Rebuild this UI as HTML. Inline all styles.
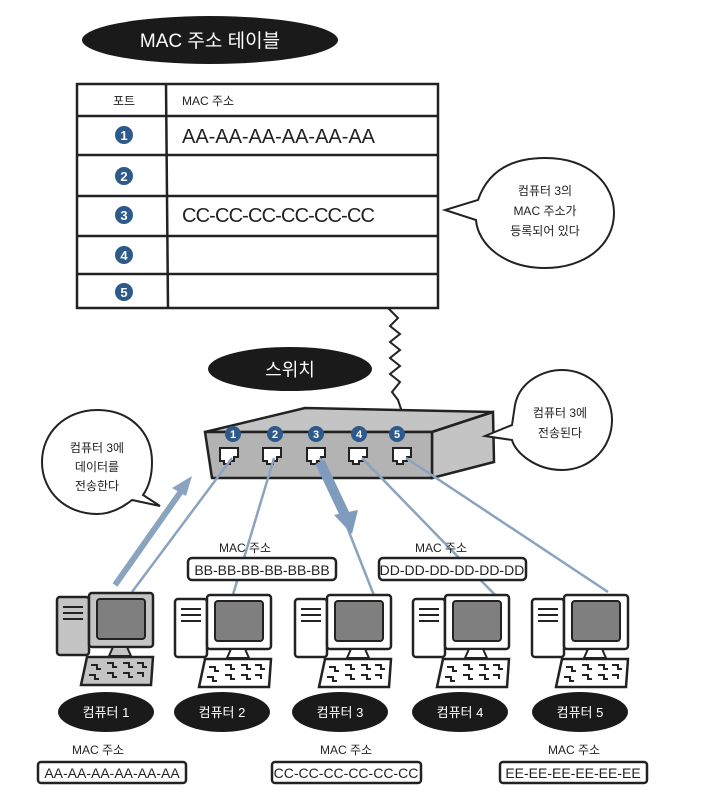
<!DOCTYPE html>
<html><head><meta charset="utf-8"><style>
html,body{margin:0;padding:0;background:#fff;}
svg{display:block;}
text{font-family:"Liberation Sans","Noto Sans CJK KR",sans-serif;}
</style></head><body>
<svg width="706" height="800" viewBox="0 0 706 800" xmlns="http://www.w3.org/2000/svg">
<defs>
<g id="pc-g">
  <rect x="0" y="4" width="32" height="58" rx="3" fill="#c4c4c4" stroke="#222" stroke-width="2.5"/>
  <line x1="6" y1="14" x2="26" y2="14" stroke="#222" stroke-width="2"/>
  <line x1="6" y1="20" x2="26" y2="20" stroke="#222" stroke-width="2"/>
  <line x1="6" y1="26" x2="26" y2="26" stroke="#222" stroke-width="2"/>
  <rect x="32" y="0" width="64" height="54" rx="3" fill="#c4c4c4" stroke="#222" stroke-width="2.5"/>
  <rect x="40" y="6" width="48" height="40" rx="3" fill="#7f7f7f" stroke="#222" stroke-width="2"/>
  <polygon points="56,54 70,54 74,63 52,63" fill="#c4c4c4" stroke="#222" stroke-width="2"/>
  <polygon points="30,64 96,64 94,92 24,92" fill="#c4c4c4" stroke="#222" stroke-width="2.5"/>
  <g stroke="#222" stroke-width="2" fill="none">
    <path d="M34,72 h6 v4 h4"/><path d="M50,70 h6 v4 h4"/><path d="M66,70 h6 v4 h4"/><path d="M80,70 h6 v4 h4"/>
    <path d="M32,82 h6 v4 h4"/><path d="M50,80 h6 v4 h4"/><path d="M66,80 h6 v4 h4"/><path d="M80,80 h6 v4"/>
  </g>
</g>
<g id="pc-w">
  <rect x="0" y="4" width="32" height="58" rx="3" fill="#fff" stroke="#222" stroke-width="2.5"/>
  <line x1="6" y1="14" x2="26" y2="14" stroke="#222" stroke-width="2"/>
  <line x1="6" y1="20" x2="26" y2="20" stroke="#222" stroke-width="2"/>
  <line x1="6" y1="26" x2="26" y2="26" stroke="#222" stroke-width="2"/>
  <rect x="32" y="0" width="64" height="54" rx="3" fill="#fff" stroke="#222" stroke-width="2.5"/>
  <rect x="40" y="6" width="48" height="40" rx="3" fill="#7f7f7f" stroke="#222" stroke-width="2"/>
  <polygon points="56,54 70,54 74,63 52,63" fill="#fff" stroke="#222" stroke-width="2"/>
  <polygon points="30,64 96,64 94,92 24,92" fill="#fff" stroke="#222" stroke-width="2.5"/>
  <g stroke="#222" stroke-width="2" fill="none">
    <path d="M34,72 h6 v4 h4"/><path d="M50,70 h6 v4 h4"/><path d="M66,70 h6 v4 h4"/><path d="M80,70 h6 v4 h4"/>
    <path d="M32,82 h6 v4 h4"/><path d="M50,80 h6 v4 h4"/><path d="M66,80 h6 v4 h4"/><path d="M80,80 h6 v4"/>
  </g>
</g>
<g id="port">
  <path d="M-9,-8 h18 v9 h-4 v4 h-4 v3 h-6 v-3 h-4 z" fill="#fff" stroke="#222" stroke-width="2"/>
</g>
</defs>

<ellipse cx="210" cy="40" rx="128" ry="24" fill="#1a1a1a"/>
<text x="210" y="47" font-size="19" fill="#fff" text-anchor="middle">MAC 주소 테이블</text>

<rect x="77" y="84" width="361" height="224" fill="#fff" stroke="#222" stroke-width="2.5"/>
<g stroke="#222" stroke-width="2.5">
<line x1="77" y1="116" x2="438" y2="116"/>
<line x1="77" y1="155" x2="438" y2="155"/>
<line x1="77" y1="196" x2="438" y2="196"/>
<line x1="77" y1="236" x2="438" y2="236"/>
<line x1="77" y1="274" x2="438" y2="274"/>
<line x1="166" y1="84" x2="168" y2="308"/>
</g>
<text x="124" y="105" font-size="12" text-anchor="middle" fill="#222">포트</text>
<text x="182" y="105" font-size="12" fill="#222">MAC 주소</text>
<g fill="#2d5a8a"><circle cx="124" cy="135" r="9"/><circle cx="124" cy="176" r="9"/><circle cx="124" cy="215" r="9"/><circle cx="124" cy="255" r="9"/><circle cx="124" cy="292" r="9"/></g>
<g fill="#fff" font-size="13" font-weight="bold" text-anchor="middle">
<text x="124" y="140">1</text><text x="124" y="181">2</text><text x="124" y="220">3</text><text x="124" y="260">4</text><text x="124" y="297">5</text></g>
<text x="182" y="143" font-size="20" fill="#222" textLength="193">AA-AA-AA-AA-AA-AA</text>
<text x="182" y="222" font-size="20" fill="#222" textLength="193">CC-CC-CC-CC-CC-CC</text>

<path d="M478,200 C490,165 520,158 545,158 C590,158 614,185 614,213 C614,245 585,268 545,268 C505,268 478,245 476,220 L445,210 Z" fill="#fff" stroke="#222" stroke-width="2"/>
<text x="545" y="195" font-size="12" text-anchor="middle" fill="#222">컴퓨터 3의</text>
<text x="545" y="215" font-size="12" text-anchor="middle" fill="#222">MAC 주소가</text>
<text x="545" y="235" font-size="12" text-anchor="middle" fill="#222">등록되어 있다</text>

<path d="M388,308 L398,318 L390,326 L400,334 L390,342 L400,350 L390,358 L400,366 L390,374 L400,382 L392,392 L398,400 L402,412" fill="none" stroke="#222" stroke-width="2"/>

<ellipse cx="290" cy="369" rx="82" ry="22" fill="#1a1a1a"/>
<text x="290" y="376" font-size="18" fill="#fff" text-anchor="middle">스위치</text>

<polygon points="205,432 305,408 493,412 432,432" fill="#c4c4c4" stroke="#222" stroke-width="2.5"/>
<polygon points="432,432 493,412 494,462 432,478" fill="#c4c4c4" stroke="#222" stroke-width="2.5"/>
<polygon points="205,432 432,432 432,478 212,478" fill="#b3b3b3" stroke="#222" stroke-width="2.5"/>
<g fill="#2d5a8a"><circle cx="233" cy="434" r="8"/><circle cx="275" cy="434" r="8"/><circle cx="316" cy="434" r="8"/><circle cx="359" cy="434" r="8"/><circle cx="397" cy="434" r="8"/></g>
<g fill="#fff" font-size="11" font-weight="bold" text-anchor="middle">
<text x="233" y="438">1</text><text x="275" y="438">2</text><text x="316" y="438">3</text><text x="359" y="438">4</text><text x="397" y="438">5</text></g>
<use href="#port" x="229" y="456"/><use href="#port" x="272" y="456"/><use href="#port" x="316" y="456"/><use href="#port" x="358" y="456"/><use href="#port" x="402" y="456"/>

<path d="M515,405 C520,380 545,370 562,370 C592,370 612,395 612,420 C612,448 590,470 562,470 C535,470 515,452 512,440 L485,436 L512,425 Z" fill="#fff" stroke="#222" stroke-width="2"/>
<text x="560" y="417" font-size="12" text-anchor="middle" fill="#222">컴퓨터 3에</text>
<text x="560" y="437" font-size="12" text-anchor="middle" fill="#222">전송된다</text>

<path d="M97,410 C130,410 152,432 152,462 C152,478 148,488 143,495 L160,506 L132,500 C122,508 110,514 97,514 C66,514 42,492 42,462 C42,432 66,410 97,410 Z" fill="#fff" stroke="#222" stroke-width="2"/>
<text x="97" y="452" font-size="12" text-anchor="middle" fill="#222">컴퓨터 3에</text>
<text x="97" y="471" font-size="12" text-anchor="middle" fill="#222">데이터를</text>
<text x="97" y="490" font-size="12" text-anchor="middle" fill="#222">전송한다</text>

<g stroke="#8aa3bf" stroke-width="2.5" fill="none">
<line x1="232" y1="458" x2="132" y2="592"/>
<line x1="274" y1="458" x2="232" y2="598"/>
<line x1="320" y1="458" x2="375" y2="598"/>
<line x1="362" y1="458" x2="498" y2="598"/>
<line x1="406" y1="458" x2="608" y2="592"/>
</g>
<line x1="115" y1="585" x2="182" y2="490" stroke="#8aa3bf" stroke-width="6"/>
<polygon points="192,476 172,488 186,496" fill="#8aa3bf"/>
<line x1="320" y1="462" x2="345" y2="515" stroke="#7f9bbd" stroke-width="10"/>
<polygon points="334,515 358,510 352,534" fill="#7f9bbd"/>

<text x="245" y="552" font-size="12" text-anchor="middle" fill="#222">MAC 주소</text>
<rect x="188" y="558" width="148" height="22" rx="4" fill="#fff" stroke="#222" stroke-width="2.5"/>
<text x="262" y="575" font-size="14" text-anchor="middle" fill="#222">BB-BB-BB-BB-BB-BB</text>
<text x="441" y="552" font-size="12" text-anchor="middle" fill="#222">MAC 주소</text>
<rect x="379" y="558" width="147" height="22" rx="4" fill="#fff" stroke="#222" stroke-width="2.5"/>
<text x="452" y="575" font-size="14" text-anchor="middle" fill="#222">DD-DD-DD-DD-DD-DD</text>

<use href="#pc-g" x="57" y="593"/>
<use href="#pc-w" x="175" y="595"/>
<use href="#pc-w" x="295" y="595"/>
<use href="#pc-w" x="413" y="595"/>
<use href="#pc-w" x="532" y="595"/>

<g fill="#1a1a1a">
<ellipse cx="106" cy="712" rx="48" ry="20"/>
<ellipse cx="222" cy="712" rx="48" ry="20"/>
<ellipse cx="340" cy="712" rx="48" ry="20"/>
<ellipse cx="460" cy="712" rx="48" ry="20"/>
<ellipse cx="580" cy="712" rx="48" ry="20"/>
</g>
<g fill="#fff" font-size="13" text-anchor="middle">
<text x="106" y="717">컴퓨터 1</text><text x="222" y="717">컴퓨터 2</text><text x="340" y="717">컴퓨터 3</text><text x="460" y="717">컴퓨터 4</text><text x="580" y="717">컴퓨터 5</text>
</g>

<text x="98" y="754" font-size="12" text-anchor="middle" fill="#222">MAC 주소</text>
<rect x="38" y="762" width="148" height="21" rx="3" fill="#fff" stroke="#222" stroke-width="2.5"/>
<text x="112" y="778" font-size="14" text-anchor="middle" fill="#222">AA-AA-AA-AA-AA-AA</text>
<text x="346" y="754" font-size="12" text-anchor="middle" fill="#222">MAC 주소</text>
<rect x="272" y="762" width="149" height="21" rx="3" fill="#fff" stroke="#222" stroke-width="2.5"/>
<text x="346" y="778" font-size="14" text-anchor="middle" fill="#222">CC-CC-CC-CC-CC-CC</text>
<text x="574" y="754" font-size="12" text-anchor="middle" fill="#222">MAC 주소</text>
<rect x="500" y="762" width="147" height="21" rx="3" fill="#fff" stroke="#222" stroke-width="2.5"/>
<text x="573" y="778" font-size="14" text-anchor="middle" fill="#222">EE-EE-EE-EE-EE-EE</text>
</svg>
</body></html>
